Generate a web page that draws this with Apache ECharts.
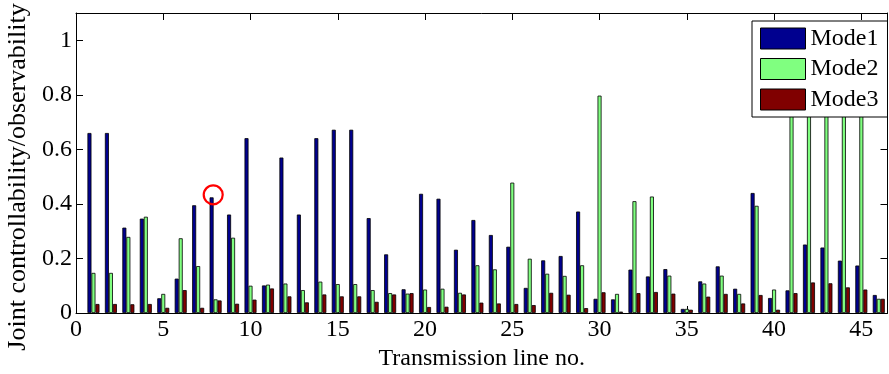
<!DOCTYPE html>
<html>
<head>
<meta charset="utf-8">
<script src="https://cdn.jsdelivr.net/npm/echarts@6/dist/echarts.min.js"></script>
<style>
  html, body { margin: 0; padding: 0; background: #fff; }
  #chart { width: 889px; height: 374px; }
</style>
</head>
<body>
<div id="chart"></div>
<script>
// Transmission line numbers (x positions of the bar groups)
const lineNo = [1, 2, 3, 4, 5, 6, 7, 8, 9, 10, 11, 12, 13, 14, 15, 16, 17, 18, 19, 20, 21, 22, 23,
  24, 25, 26, 27, 28, 29, 30, 31, 32, 33, 34, 35, 36, 37, 38, 39, 40, 41, 42, 43, 44, 45, 46];

// Joint controllability/observability index per line and mode
const mode1 = [0.660, 0.660, 0.313, 0.346, 0.054, 0.126, 0.395, 0.424, 0.361, 0.641, 0.101, 0.570,
  0.361, 0.641, 0.672, 0.672, 0.348, 0.215, 0.087, 0.437, 0.419, 0.232, 0.341, 0.286, 0.243, 0.092,
  0.193, 0.209, 0.372, 0.052, 0.050, 0.159, 0.134, 0.161, 0.015, 0.116, 0.171, 0.089, 0.440, 0.055,
  0.083, 0.251, 0.240, 0.192, 0.174, 0.066];
const mode2 = [0.147, 0.147, 0.279, 0.353, 0.070, 0.274, 0.172, 0.050, 0.276, 0.100, 0.104, 0.108,
  0.084, 0.115, 0.106, 0.106, 0.084, 0.073, 0.071, 0.086, 0.089, 0.074, 0.175, 0.160, 0.478, 0.199,
  0.144, 0.136, 0.175, 0.797, 0.070, 0.410, 0.427, 0.137, 0.015, 0.108, 0.137, 0.070, 0.393, 0.086,
  1.000, 1.000, 1.000, 1.000, 1.000, 0.052];
const mode3 = [0.033, 0.033, 0.032, 0.033, 0.019, 0.084, 0.019, 0.046, 0.034, 0.049, 0.090, 0.061,
  0.039, 0.068, 0.061, 0.061, 0.041, 0.068, 0.073, 0.022, 0.023, 0.068, 0.038, 0.035, 0.033, 0.029,
  0.074, 0.067, 0.018, 0.076, 0.005, 0.073, 0.077, 0.071, 0.012, 0.060, 0.070, 0.035, 0.066, 0.012,
  0.073, 0.112, 0.109, 0.094, 0.086, 0.052];

// Axis tick settings
const xTickStep = 5;
const yTickStep = 0.2;
const xMax = 46.5;
const yMax = 1.1;

// Line singled out with a circle marker
const markedLine = 8;

const seriesNames = ['Mode1', 'Mode2', 'Mode3'];
const seriesColors = ['#00008f', '#80ff80', '#800000'];
const seriesValues = [mode1, mode2, mode3];

const FONT = 'Liberation Serif';

const chart = echarts.init(document.getElementById('chart'), null, { renderer: 'canvas' });

const baseXAxis = {
  type: 'value', min: 0, max: xMax, interval: xTickStep,
  axisLine: { show: true, onZero: false, lineStyle: { color: '#000', width: 1 } },
  axisTick: { show: true, inside: true, length: 7, lineStyle: { color: '#000', width: 1 } },
  splitLine: { show: false }
};
const baseYAxis = {
  type: 'value', min: 0, max: yMax, interval: yTickStep,
  axisLine: { show: true, onZero: false, lineStyle: { color: '#000', width: 1 } },
  axisTick: { show: true, inside: true, length: 7, lineStyle: { color: '#000', width: 1 } },
  splitLine: { show: false }
};

const series = seriesNames.map((name, k) => ({
  name: name,
  type: 'bar',
  xAxisIndex: 0,
  yAxisIndex: 0,
  barWidth: 4,
  barGap: '0%',
  clip: true,
  itemStyle: { color: seriesColors[k], borderColor: '#000', borderWidth: 0.8 },
  emphasis: { disabled: true },
  data: lineNo.map((x, i) => [x, seriesValues[k][i]])
}));

series[0].markPoint = {
  symbol: 'circle',
  symbolSize: 19,
  symbolOffset: [1.6, -2.5],
  silent: true,
  label: { show: false },
  itemStyle: { color: 'rgba(0,0,0,0)', borderColor: '#ff0000', borderWidth: 2.2 },
  data: [{ coord: [markedLine, mode1[markedLine - 1]] }]
};

chart.setOption({
  animation: false,
  backgroundColor: '#fff',
  grid: { left: 76, right: 1.5, top: 13, bottom: 61, containLabel: false, outerBoundsMode: 'none' },
  legend: {
    data: seriesNames,
    orient: 'vertical',
    left: 752,
    top: 21,
    padding: [5.5, 9, 5.5, 8],
    itemWidth: 45,
    itemHeight: 21,
    itemGap: 6.5,
    icon: 'rect',
    backgroundColor: '#fff',
    borderColor: '#000',
    borderWidth: 1,
    borderRadius: 0,
    itemStyle: { borderColor: '#000', borderWidth: 1 },
    textStyle: { fontFamily: FONT, fontSize: 24, lineHeight: 22, color: '#000' },
    selectedMode: false,
    z: 10
  },
  xAxis: [
    Object.assign({}, baseXAxis, {
      position: 'bottom',
      name: 'Transmission line no.',
      nameLocation: 'middle',
      nameGap: 29,
      nameTextStyle: { fontFamily: FONT, fontSize: 24, color: '#000' },
      axisLabel: {
        show: true, margin: 5, fontFamily: FONT, fontSize: 24, color: '#000',
        formatter: v => (Math.abs(v % xTickStep) < 1e-9 ? String(v) : '')
      }
    }),
    Object.assign({}, baseXAxis, { position: 'top', axisLabel: { show: false } })
  ],
  yAxis: [
    Object.assign({}, baseYAxis, {
      position: 'left',
      name: 'Joint controllability/observability',
      nameLocation: 'middle',
      nameGap: 43,
      nameRotate: 90,
      nameTextStyle: { fontFamily: FONT, fontSize: 26, color: '#000', padding: [0, 28, 0, 0] },
      axisLabel: {
        show: true, margin: 4, fontFamily: FONT, fontSize: 24, color: '#000',
        formatter: v => (v > 1.05 ? '' : String(Math.round(v * 10) / 10))
      }
    }),
    Object.assign({}, baseYAxis, { position: 'right', axisLabel: { show: false } })
  ],
  series: series
});
</script>
</body>
</html>
